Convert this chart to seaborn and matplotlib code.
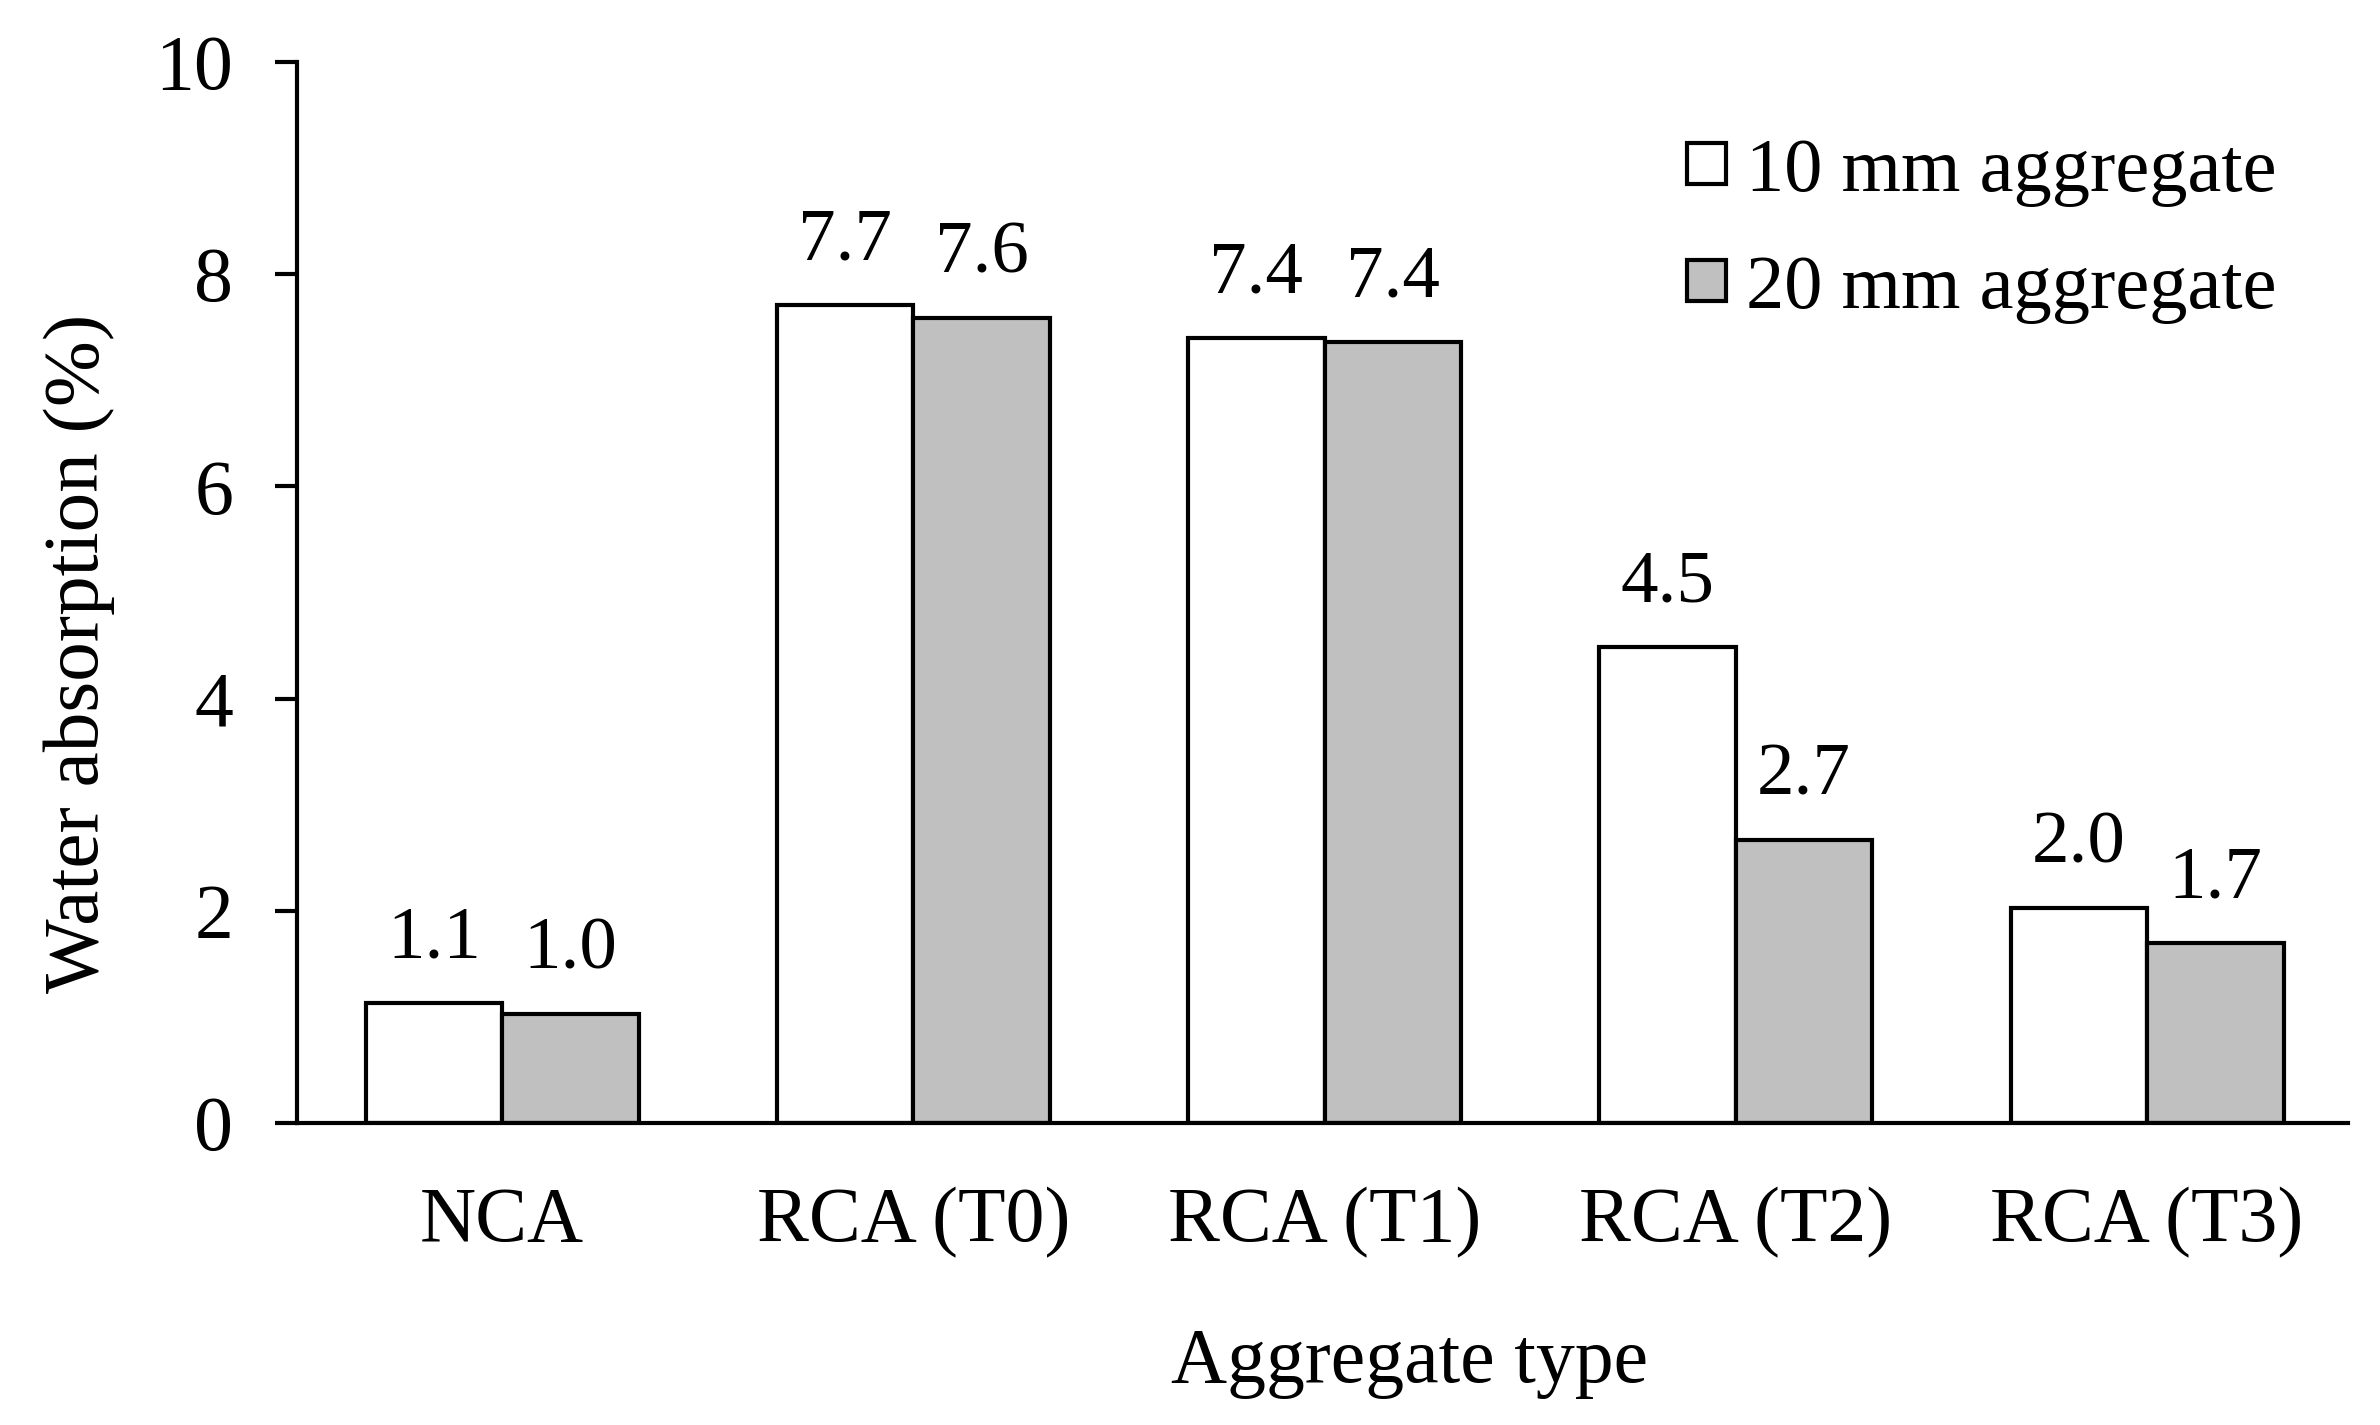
import pandas as pd
import matplotlib.pyplot as plt
import seaborn as sns

# Data
categories = ['NCA', 'RCA (T0)', 'RCA (T1)', 'RCA (T2)', 'RCA (T3)']
series = ['10 mm aggregate', '20 mm aggregate']
vals_10mm = [1.13, 7.71, 7.40, 4.49, 2.03]
vals_20mm = [1.03, 7.59, 7.36, 2.67, 1.70]
labels_10mm = ['1.1', '7.7', '7.4', '4.5', '2.0']
labels_20mm = ['1.0', '7.6', '7.4', '2.7', '1.7']

df = pd.DataFrame({
    'type': categories * 2,
    'size': [series[0]] * 5 + [series[1]] * 5,
    'value': vals_10mm + vals_20mm,
})

sns.set_theme(style='white')
plt.rcParams['font.family'] = ['Liberation Serif', 'DejaVu Serif']
for k in ['text.color', 'axes.labelcolor', 'xtick.color', 'ytick.color']:
    plt.rcParams[k] = 'black'

fig = plt.figure(figsize=(23.8, 14.25), dpi=100)
ax = fig.add_axes([0.1248, 0.212, 0.8618, 0.7445])

sns.barplot(data=df, x='type', y='value', hue='size', order=categories,
            hue_order=series, palette=['white', '#C0C0C0'], width=0.664,
            edgecolor='black', linewidth=3, saturation=1, ax=ax)

for cont, labs in zip(ax.containers, [labels_10mm, labels_20mm]):
    ax.bar_label(cont, labels=labs, padding=21, fontsize=54)

ax.set_ylim(0, 10)
ax.set_xlim(-0.499, 4.489)
ax.set_yticks([0, 2, 4, 6, 8, 10])
ax.tick_params(axis='y', which='major', length=16, width=3, direction='out',
               left=True, labelsize=56, pad=30)
ax.tick_params(axis='x', length=0, labelsize=56, pad=46)
for s in ['top', 'right']:
    ax.spines[s].set_visible(False)
for s in ['left', 'bottom']:
    ax.spines[s].set_linewidth(3)
    ax.spines[s].set_color('black')

ax.set_xlabel('Aggregate type', fontsize=56, labelpad=50)
ax.xaxis.label.set_x(0.5426)
ax.set_ylabel('Water absorption (%)', fontsize=57)
ax.yaxis.set_label_coords(-0.0887, 0.443)

leg = ax.legend(loc='center left', bbox_to_anchor=(1687 / 2380, 0.838),
                bbox_transform=fig.transFigure, frameon=False,
                fontsize=55, handlelength=0.51, handleheight=0.46,
                handletextpad=0.26, labelspacing=0.63, borderpad=0,
                borderaxespad=0)
for h in leg.legend_handles:
    h.set_linewidth(3)

fig.savefig('out.png', dpi=100)
